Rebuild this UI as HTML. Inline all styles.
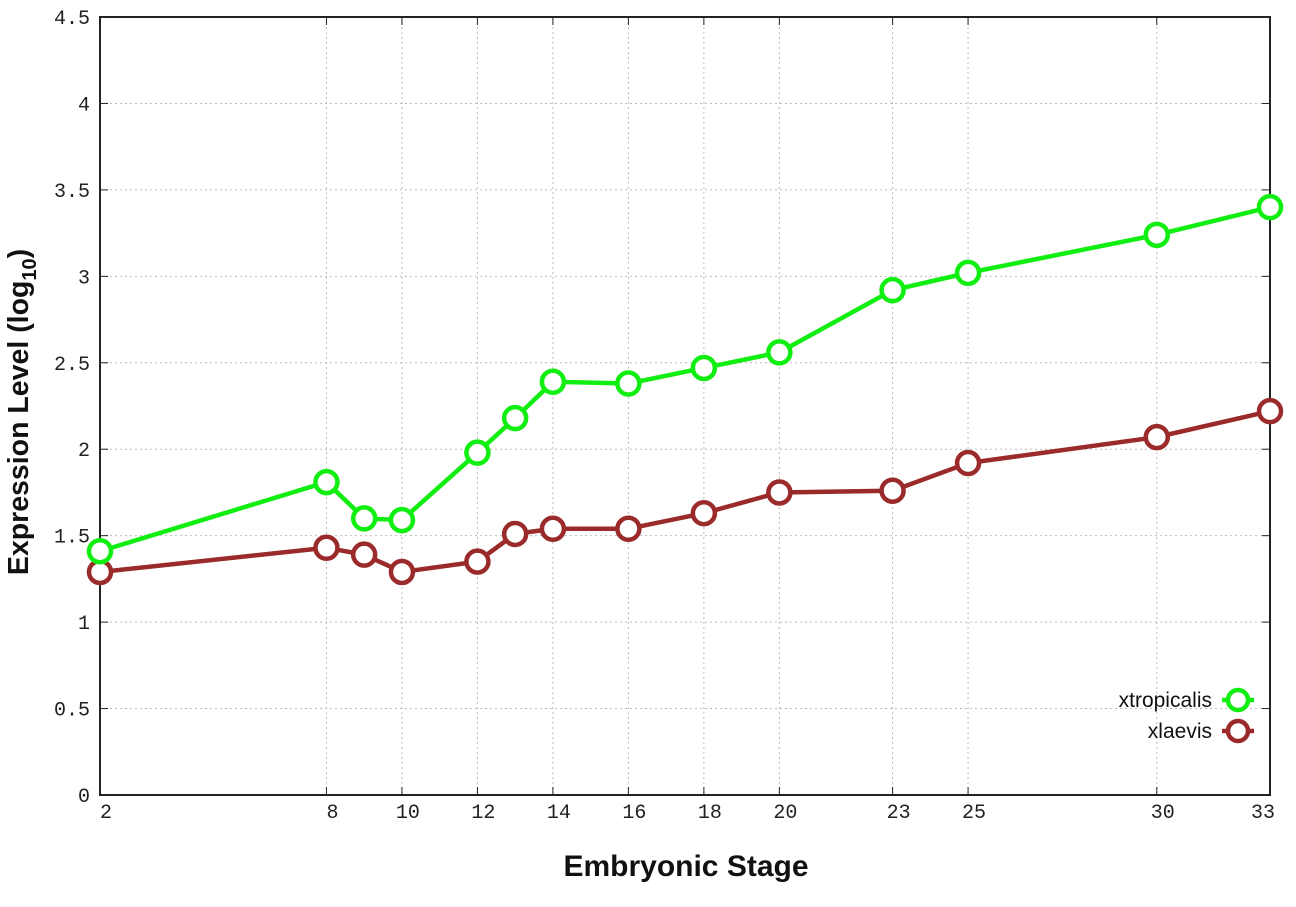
<!DOCTYPE html>
<html><head><meta charset="utf-8"><style>
html,body{margin:0;padding:0;background:#fff;}
svg{display:block;}
</style></head><body>
<svg id="s" width="1296" height="907" xmlns="http://www.w3.org/2000/svg" font-family="Liberation Sans, sans-serif"></svg>
<script>
const s=document.getElementById('s');
const L=100,R=1270,T=17,B=795;
const X=v=>L+(v-2)*(R-L)/31, Y=v=>B-v*(B-T)/4.5;
let h='';
const xs=[2,8,10,12,14,16,18,20,23,25,30,33];
for(let i=1;i<=9;i++){const v=i*0.5,y=Y(v);
 if(i<9)h+=`<line x1="${L}" x2="${R}" y1="${y}" y2="${y}" stroke="#bbb" stroke-dasharray="2,3" stroke-width="1"/>`;
 h+=`<line x1="${L}" x2="${L+8}" y1="${y}" y2="${y}" stroke="#222"/><line x1="${R-8}" x2="${R}" y1="${y}" y2="${y}" stroke="#222"/>`;}
for(let i=0;i<=9;i++){const v=i*0.5;
 h+=`<text x="90" y="${Y(v)+7}" text-anchor="end" font-family="Liberation Mono, monospace" font-size="20" fill="#222">${v}</text>`;}
xs.forEach(v=>{const x=X(v);
 if(v>2&&v<33)h+=`<line x1="${x}" x2="${x}" y1="${T}" y2="${B}" stroke="#bbb" stroke-dasharray="2,3" stroke-width="1"/>`;
 h+=`<line x1="${x}" x2="${x}" y1="${B}" y2="${B-8}" stroke="#222"/><line x1="${x}" x2="${x}" y1="${T}" y2="${T+8}" stroke="#222"/>`;
 const off=v==33?-7:6;
 h+=`<text x="${x+off}" y="818" text-anchor="middle" font-family="Liberation Mono, monospace" font-size="20" fill="#222">${v}</text>`;});
h+=`<rect x="${L}" y="${T}" width="${R-L}" height="${B-T}" fill="none" stroke="#222" stroke-width="2"/>`;
const st=[2,8,9,10,12,13,14,16,18,20,23,25,30,33];
const g=[1.41,1.81,1.60,1.59,1.98,2.18,2.39,2.38,2.47,2.56,2.92,3.02,3.24,3.40];
const r=[1.29,1.43,1.39,1.29,1.35,1.51,1.54,1.54,1.63,1.75,1.76,1.92,2.07,2.22];
function ser(d,c){let p=st.map((v,i)=>X(v)+','+Y(d[i])).join(' ');
 h+=`<polyline points="${p}" fill="none" stroke="${c}" stroke-width="4.5"/>`;
 st.forEach((v,i)=>{h+=`<circle cx="${X(v)}" cy="${Y(d[i])}" r="11" fill="#fff" stroke="${c}" stroke-width="4.5"/>`;});}
ser(r,'#9b2a2a');ser(g,'#11ee11');
function leg(y,t,c){h+=`<text x="1212" y="${y+7}" text-anchor="end" font-size="21" fill="#111">${t}</text><line x1="1222" x2="1254" y1="${y}" y2="${y}" stroke="${c}" stroke-width="4.5"/><circle cx="1238" cy="${y}" r="10" fill="#fff" stroke="${c}" stroke-width="4.5"/>`;}
leg(700,'xtropicalis','#11ee11');leg(731,'xlaevis','#9b2a2a');
h+=`<text x="686" y="876" text-anchor="middle" font-size="30" font-weight="bold" fill="#111">Embryonic Stage</text>`;
h+=`<text transform="translate(28,412) rotate(-90)" text-anchor="middle" font-size="28.5" font-weight="bold" fill="#111">Expression Level (log<tspan font-size="20" dy="8">10</tspan><tspan dy="-8">)</tspan></text>`;
s.innerHTML=h;
</script>
</body></html>
